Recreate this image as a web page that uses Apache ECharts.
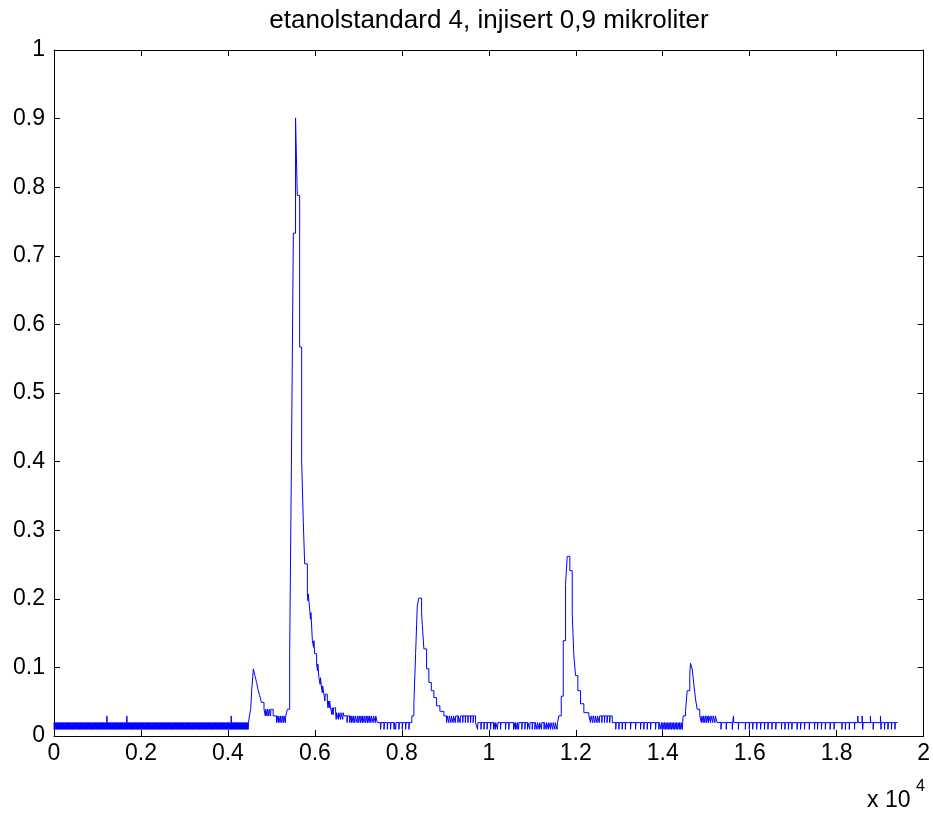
<!DOCTYPE html>
<html><head><meta charset="utf-8">
<script src="https://cdn.jsdelivr.net/npm/echarts@6/dist/echarts.min.js"></script>
<style>html,body{margin:0;padding:0;background:#fff}#c{width:933px;height:816px}</style>
</head><body><div id="c"></div>
<script>
// ---------------- data ----------------
const titleText = 'etanolstandard 4, injisert 0,9 mikroliter';
const xTicks = [0, 2000, 4000, 6000, 8000, 10000, 12000, 14000, 16000, 18000, 20000];
const yTicks = [0, 0.1, 0.2, 0.3, 0.4, 0.5, 0.6, 0.7, 0.8, 0.9, 1];
const LSB = 0.0098; // one ADC count (V)

// main step trace: sample index where the level changes, and the new level (V)
const stepX = [
  0,
  4495, 4523, 4546, 4585, 4620, 4660, 4690, 4730, 4770, 4830, 5040,
  5367, 5420, 5460, 5505, 5555, 5595, 5650, 5696, 5734, 5765, 5827, 5886, 5942, 5994, 6040, 6093, 6148, 6208, 6286, 6362, 6477, 6668, 7436,
  8230, 8277, 8317, 8355, 8392, 8454, 8470, 8507, 8569, 8622, 8677, 8737, 8799, 8875, 8967, 9695,
  11611, 11666, 11712, 11765, 11804, 11864, 11919, 11956, 11995, 12048, 12110, 12186, 12301, 12839,
  14470, 14524, 14563, 14623, 14639, 14677, 14715, 14754, 14793, 14853, 15253,
  19400
];
const stepY = [
  0.0195,
  0.0293, 0.039, 0.066, 0.098, 0.088, 0.078, 0.068, 0.059, 0.049, 0.039, 0.0293,
  0.039, 0.12, 0.394, 0.733, 0.901, 0.788, 0.567, 0.401, 0.311, 0.251, 0.207, 0.18, 0.139, 0.12, 0.105, 0.085, 0.073, 0.061, 0.051, 0.041, 0.034, 0.0293, 0.0195,
  0.0293, 0.047, 0.12, 0.19, 0.201, 0.18, 0.163, 0.127, 0.098, 0.078, 0.066, 0.056, 0.044, 0.036, 0.0293, 0.0195,
  0.0293, 0.058, 0.139, 0.221, 0.262, 0.241, 0.178, 0.117, 0.088, 0.066, 0.047, 0.034, 0.0293, 0.0195,
  0.0293, 0.036, 0.066, 0.09, 0.106, 0.098, 0.076, 0.054, 0.039, 0.0293, 0.0195,
  0.0195
];

// short one-count drops of the signal (sample index where each drop starts)
const dipsStart = [
  5,24,45,63,85,104,125,144,165,184, 205,224,245,263,285,304,325,344,365,384,
  405,424,445,463,485,504,525,544,565,584, 605,624,645,663,685,704,725,744,765,784,
  805,824,845,863,885,904,925,944,965,984, 1005,1024,1045,1063,1085,1104,1125,1144,1165,1184,
  1205,1224,1245,1263,1285,1304,1325,1344,1365,1384, 1405,1424,1445,1463,1485,1504,1525,1544,1565,1584,
  1605,1624,1645,1663,1685,1704,1725,1744,1765,1784, 1805,1824,1845,1863,1885,1904,1925,1944,1965,1984,
  2005,2024,2045,2063,2085,2104,2125,2144,2165,2184, 2205,2224,2245,2263,2285,2304,2325,2344,2365,2384,
  2405,2424,2445,2463,2485,2504,2525,2544,2565,2584, 2605,2624,2645,2663,2685,2704,2725,2744,2765,2784,
  2805,2824,2845,2863,2885,2904,2925,2944,2965,2984, 3005,3024,3045,3063,3085,3104,3125,3144,3165,3184,
  3205,3224,3245,3263,3285,3304,3325,3344,3365,3384, 3405,3424,3445,3463,3485,3504,3525,3544,3565,3584,
  3605,3624,3645,3663,3685,3704,3725,3744,3765,3784, 3805,3824,3845,3863,3885,3904,3925,3944,3965,3984,
  4005,4024,4045,4063,4085,4104,4125,4144,4165,4184, 4205,4224,4245,4263,4285,4304,4325,4344,4365,4384,
  4405,4424,4445,4465
];
const dipsMid = [4860,4900,4940,4980,5120,5160,5200,5240,5280,5320,
  5840,5900,5970,6060,6120,6170,6230,6300,6330,6390,6420,6490,6540,6590,6640,
  6740,6800,6840,6880,6920,6970,7010,7050,7090,7130,7170,7210,7250,7290,7340,7390,
  7512,7590,7666,7740,7819,7857,7933,8010,8087,8163,
  9030,9080,9130,9180,9230,9290,9340,9400,9460,9520,9580,9640,
  9740,9820,9890,9960,10040,10110,10150,10200,10270,10385,10460,10570,10610,10650,10685,10760,10830,10890,10940,11000,11060,11110,11160,11210,11270,11320,11370,11420,11470,11520,11570];
const dipsLate = [12340,12390,12440,12490,12540,12600,12660,12720,12780,
  12920,12991,13068,13140,13260,13375,13490,13565,13643,13720,13835,13911,
  13960,13995,14030,14065,14100,14135,14170,14205,14240,14275,14310,14345,14380,14415,14450,
  14890,14930,14970,15010,15050,15100,15150,15200,
  15340,15460,15600,15740,15900,15990,16070,16160,16250,16340,16420,16510,16600,16730,16810,16890,16970,17090,17170,17260,17370,17490,17560,17650,17740,17850,17940,18120,18200,18290,18410,18600,18840,19020,19100,19180,19260,19340];
// short one-count rises of the signal
const spikes = [1215, 1674, 4074, 15627, 18485, 18585, 18777, 19007];
const blipWidth = 9;   // samples, drops
const spikeWidth = 8;  // samples, rises

// ---------------- build series ----------------
function levelAt(x) {
  let v = stepY[0];
  for (let i = 0; i < stepX.length; i++) { if (stepX[i] <= x) v = stepY[i]; else break; }
  return v;
}
const pts = stepX.map((x, i) => [x, stepY[i]]);
[].concat(dipsStart, dipsMid, dipsLate).forEach(d => {
  const lv = levelAt(d);
  pts.push([d, +(lv - LSB).toFixed(4)]);
  pts.push([d + blipWidth, lv]);
});
spikes.forEach(s => {
  const lv = levelAt(s);
  pts.push([s, +(lv + LSB).toFixed(4)]);
  pts.push([s + spikeWidth, lv]);
});
pts.sort((a, b) => a[0] - b[0]);

// ---------------- chart ----------------
const FONT = 'Liberation Sans, Arial, sans-serif';
const chart = echarts.init(document.getElementById('c'));
const tickFmt = v => String(+(v).toFixed(1));
const axisCommon = {
  axisLine: { show: true, onZero: false, lineStyle: { color: '#000', width: 1 } },
  axisTick: { show: true, inside: true, length: 6, lineStyle: { color: '#000', width: 1 } },
  splitLine: { show: false }
};
chart.setOption({
  animation: false,
  backgroundColor: '#fff',
  grid: { left: 54, top: 50, width: 870, height: 686, containLabel: false },
  xAxis: [
    Object.assign({ type: 'value', position: 'bottom', min: xTicks[0], max: xTicks[xTicks.length - 1], interval: xTicks[1] - xTicks[0],
      axisLabel: { show: true, margin: 6, color: '#000', fontSize: 23, fontFamily: FONT, formatter: v => tickFmt(v / 10000) } }, axisCommon),
    Object.assign({ type: 'value', position: 'top', min: xTicks[0], max: xTicks[xTicks.length - 1], interval: xTicks[1] - xTicks[0],
      axisLabel: { show: false } }, axisCommon)
  ],
  yAxis: [
    Object.assign({ type: 'value', position: 'left', min: yTicks[0], max: yTicks[yTicks.length - 1], interval: 0.1,
      axisLabel: { show: true, margin: 9, color: '#000', fontSize: 23, fontFamily: FONT, formatter: tickFmt } }, axisCommon),
    Object.assign({ type: 'value', position: 'right', min: yTicks[0], max: yTicks[yTicks.length - 1], interval: 0.1,
      axisLabel: { show: false } }, axisCommon)
  ],
  graphic: [
    { type: 'text', x: 489, y: 21, style: { text: titleText, fill: '#000', font: '26px ' + FONT, textAlign: 'center', textVerticalAlign: 'middle' } },
    { type: 'text', x: 867, y: 801, style: { text: 'x 10', fill: '#000', font: '23px ' + FONT, textAlign: 'left', textVerticalAlign: 'middle' } },
    { type: 'text', x: 916, y: 787, style: { text: '4', fill: '#000', font: '16px ' + FONT, textAlign: 'left', textVerticalAlign: 'middle' } }
  ],
  series: [{
    type: 'line', data: pts, step: 'end', showSymbol: false, symbol: 'none', silent: true,
    sampling: null, clip: true,
    lineStyle: { color: '#0000ff', width: 1 }
  }]
});
</script></body></html>
